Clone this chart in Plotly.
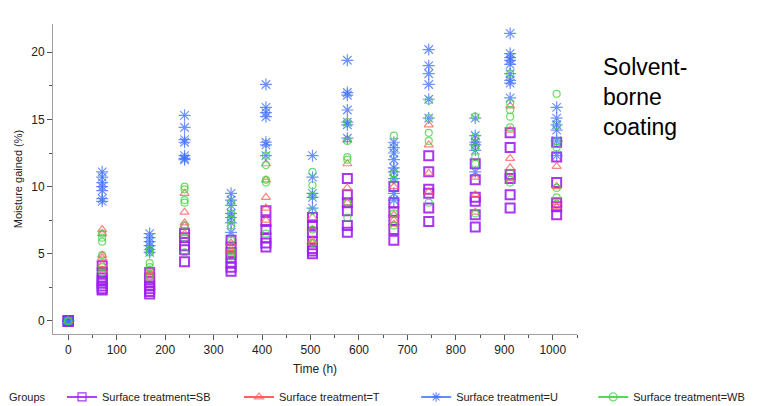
import plotly.graph_objects as go

times = [0, 70, 168, 240, 336, 408, 504, 576, 672, 744, 840, 912, 1008]

sb_values = [
    [0, 0, 0, 0, 0, 0],
    [4.1, 3.6, 3.2, 3.0, 2.8, 2.6, 2.4, 2.3],
    [3.6, 3.2, 2.9, 2.6, 2.4, 2.2, 2.0],
    [6.5, 6.2, 5.6, 5.3, 4.4],
    [6.0, 5.5, 5.1, 4.7, 4.3, 4.0, 3.7],
    [8.2, 7.4, 6.8, 6.2, 5.8, 5.5],
    [7.7, 7.1, 6.6, 5.9, 5.4, 5.2, 5.0],
    [10.6, 9.4, 8.8, 8.2, 7.1, 6.6],
    [10.0, 8.8, 8.1, 7.5, 6.8, 6.0],
    [12.3, 11.1, 9.8, 9.5, 8.4, 7.4],
    [11.7, 10.5, 9.2, 8.9, 7.9, 7.0],
    [14.0, 12.9, 10.9, 10.6, 9.4, 8.4],
    [13.3, 12.2, 10.3, 8.8, 8.5, 7.9],
]

t_values = [
    [0, 0, 0],
    [6.8, 6.5, 4.9, 4.7, 4.2, 3.8],
    [3.8, 3.6, 3.4, 3.2],
    [9.5, 8.1, 7.3, 7.1, 6.5],
    [5.8, 5.4, 5.2, 5.0],
    [11.7, 10.5, 9.2, 8.4, 7.5],
    [7.7, 6.8, 6.0, 5.8],
    [13.5, 11.7, 9.9, 8.8],
    [10.0, 7.9, 7.5, 7.2],
    [14.6, 13.1, 11.0, 9.6],
    [13.3, 10.7, 9.4, 8.1],
    [16.0, 14.2, 12.1, 11.4, 10.6],
    [11.5, 10.0, 8.8, 8.5],
]

u_values = [
    [0, 0, 0],
    [11.1, 10.7, 10.3, 10.0, 9.7, 9.1, 8.9],
    [6.5, 6.2, 5.9, 5.6, 5.3, 5.1],
    [15.3, 14.4, 13.5, 13.3, 12.3, 12.1, 12.0],
    [9.5, 9.0, 8.6, 8.0, 7.7, 7.3, 6.6],
    [17.6, 15.9, 15.5, 15.2, 13.3, 13.1, 12.3],
    [12.3, 10.7, 9.5, 9.2, 8.4],
    [19.4, 17.0, 16.8, 15.7, 14.8, 14.6, 13.6],
    [13.3, 12.9, 12.5, 12.0, 11.4, 11.1, 10.6, 9.5, 9.0],
    [20.2, 19.0, 18.4, 17.6, 16.5, 15.1],
    [15.1, 13.8, 13.3, 13.1, 12.7, 11.1],
    [21.4, 19.9, 19.6, 19.4, 19.1, 18.4, 17.9, 17.7, 16.6],
    [15.9, 15.1, 14.6, 14.2, 13.4, 12.3],
]

wb_values = [
    [0, 0, 0],
    [6.5, 6.2, 5.9, 4.9, 4.0, 3.6],
    [5.3, 5.1, 4.3, 4.0, 3.3],
    [10.0, 9.8, 9.0, 8.8, 7.1, 6.2, 5.1],
    [8.8, 8.0, 7.5, 7.1, 6.0, 5.2, 4.8],
    [12.3, 11.6, 10.5, 10.3, 6.5],
    [11.1, 10.1, 9.3, 8.2, 6.8, 5.8],
    [14.8, 13.4, 12.2, 12.0, 8.8, 7.7],
    [13.8, 11.0, 10.5, 8.0, 7.1],
    [16.4, 15.1, 14.0, 13.4, 8.8],
    [15.2, 13.7, 12.9, 12.2, 11.7, 8.0],
    [18.4, 16.2, 15.7, 15.2, 14.4, 11.0, 10.3],
    [16.9, 14.6, 13.4, 12.9, 9.9, 9.2],
]

group_names = ["Surface treatment=SB", "Surface treatment=T",
               "Surface treatment=U", "Surface treatment=WB"]
group_data = [sb_values, t_values, u_values, wb_values]
marker_colors = ["rgba(160,32,240,0.9)", "rgba(255,90,90,0.75)",
                 "rgba(60,110,255,0.75)", "rgba(60,210,60,0.75)"]
line_colors = ["#9b00ff", "#ff2b2b", "#2b6bff", "#22cc22"]
symbols = ["square-open", "triangle-up-open", "asterisk-open", "circle-open"]
sizes = [9, 8, 10, 7]
widths = [2, 1.2, 1.2, 1.2]
legend_ids = ["legend", "legend2", "legend3", "legend4"]
legend_x = [0.0172, 0.355, 0.693, 1.031]

FONT = "Liberation Sans, Arial, sans-serif"

fig = go.Figure()
for name, data, mc, sym, sz, w in zip(group_names, group_data, marker_colors,
                                      symbols, sizes, widths):
    xs, ys = [], []
    for t, vals in zip(times, data):
        xs += [t] * len(vals)
        ys += vals
    fig.add_trace(go.Scatter(
        x=xs, y=ys, mode="markers", name=name, legendgroup=name,
        showlegend=False,
        marker=dict(symbol=sym, size=sz, color=mc, line=dict(color=mc, width=w)),
    ))

for name, mc, lc, sym, lid in zip(group_names, marker_colors, line_colors, symbols, legend_ids):
    fig.add_trace(go.Scatter(
        x=[None], y=[None], mode="lines+markers", name=name, legendgroup=name,
        legend=lid,
        line=dict(color=lc, width=1.5),
        marker=dict(symbol=sym, size=8, color=mc, line=dict(color=mc, width=1.2)),
    ))

axis_common = dict(
    showline=True, linecolor="#a0a0a0", linewidth=1,
    ticks="outside", ticklen=5, tickcolor="#555555", tickwidth=1,
    showgrid=False, zeroline=False, mirror=False, automargin=False,
    tickfont=dict(family=FONT, size=12, color="#222222"),
)

fig.update_xaxes(
    range=[-31.5, 1050], dtick=100, tick0=0,
    minor=dict(dtick=50, ticks="outside", ticklen=3, tickcolor="#555555"),
    title=dict(text="Time (h)", font=dict(family=FONT, size=12, color="#222222"), standoff=8),
    **axis_common,
)
fig.update_yaxes(
    range=[-0.97, 22.1], dtick=5, tick0=0,
    minor=dict(dtick=2.5, ticks="outside", ticklen=3, tickcolor="#555555"),
    title=dict(text="Moisture gained (%)", font=dict(family=FONT, size=11, color="#222222"),
               standoff=6),
    **axis_common,
)

fig.add_annotation(
    text="Solvent-<br>borne<br>coating", xref="paper", yref="paper",
    x=1.045, y=0.91, xanchor="left", yanchor="top", align="left", showarrow=False,
    font=dict(family=FONT, size=23, color="#000000"),
)
fig.add_annotation(
    text="Groups", xref="paper", yref="paper",
    x=-0.088, y=-0.203, xanchor="left", yanchor="middle", showarrow=False,
    font=dict(family=FONT, size=11, color="#222222"),
)

legend_style = dict(
    orientation="h", xanchor="left", y=-0.203, yanchor="middle",
    font=dict(family=FONT, size=11, color="#222222"),
    bgcolor="rgba(0,0,0,0)",
)
layout_legends = {lid: dict(x=lx, **legend_style) for lid, lx in zip(legend_ids, legend_x)}

fig.update_layout(
    width=759, height=406,
    margin=dict(l=53, r=182, t=24, b=72, autoexpand=False),
    paper_bgcolor="white", plot_bgcolor="white",
    showlegend=True,
    **layout_legends,
)

fig.write_html("out.html", config={"displayModeBar": False},
               post_script="document.body.style.margin='0';")
